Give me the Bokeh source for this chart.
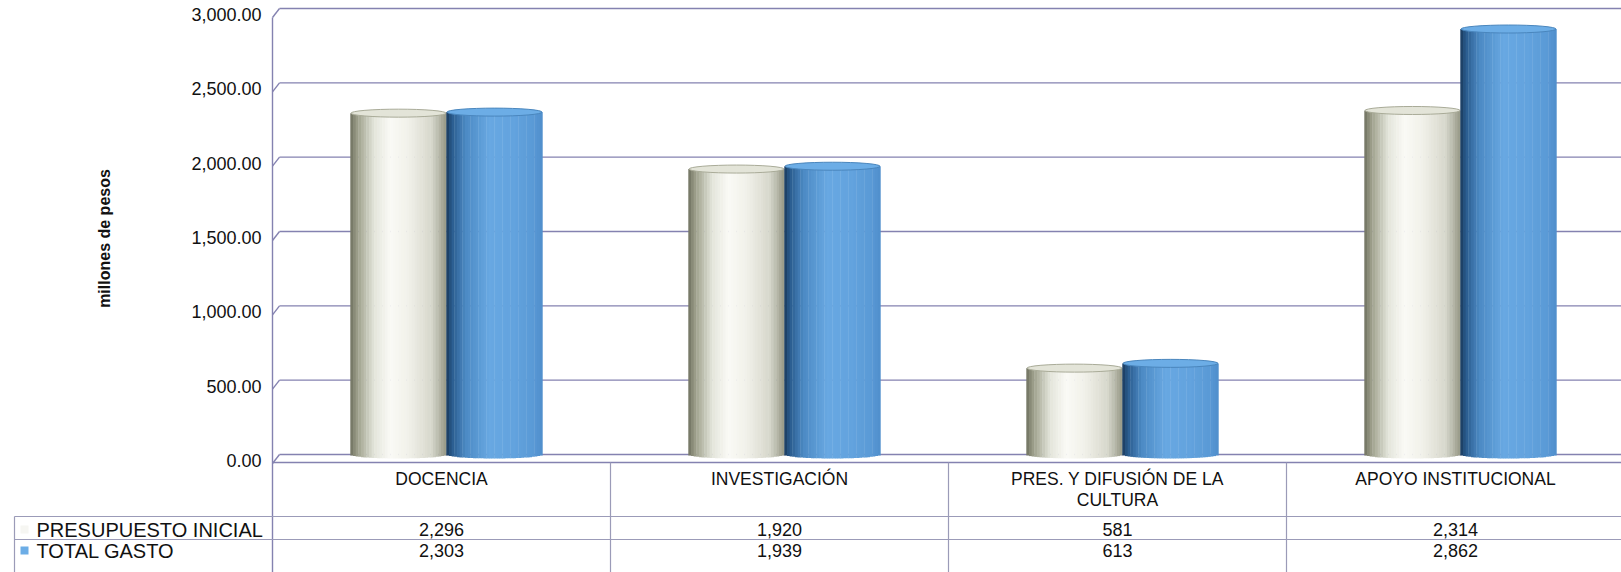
import math
from bokeh.plotting import figure
from bokeh.models import ColumnDataSource, Range1d
from bokeh.core.properties import value
from bokeh.embed import file_html
from bokeh.resources import INLINE

# ---------------- data ----------------
categories = ["DOCENCIA", "INVESTIGACIÓN", "PRES. Y DIFUSIÓN DE LA\nCULTURA", "APOYO INSTITUCIONAL"]
series_names = ["PRESUPUESTO INICIAL", "TOTAL GASTO"]
presupuesto_inicial = [2296, 1920, 581, 2314]
total_gasto = [2303, 1939, 613, 2862]
y_ticks = [0, 500, 1000, 1500, 2000, 2500, 3000]
y_tick_labels = ["0.00", "500.00", "1,000.00", "1,500.00", "2,000.00", "2,500.00", "3,000.00"]
y_title = "millones de pesos"

# ---------------- layout (page pixels) ----------------
W, H = 1621, 572
AXIS_X = 272          # left wall of plot
COL_W = 338           # width of one category
Y0_BACK = 454         # value 0 on back wall
Y_TOP_BACK = 8        # value 3000 on back wall
PPU = (Y0_BACK - Y_TOP_BACK) / 3000.0
DEPTH_X = 7           # 3D depth offset
DEPTH_Y = 8
BAR_W_PX = 96
BAR_SHIFT_PX = 5
CAP_H = 8
LABEL_OFF = 6

def px_x(page_x):
    return (page_x - AXIS_X) / COL_W

def px_y(page_y):
    return (Y0_BACK - page_y) / PPU

def dxu(px):
    return px / COL_W

def dyu(px):
    return px / PPU

FONT = value("Liberation Sans")
GRID_C = "#8482b0"
TABLE_C = "#9b9bb8"

p = figure(width=W, height=H,
           x_range=Range1d(px_x(0), px_x(W)),
           y_range=Range1d(px_y(H), px_y(0)),
           output_backend="svg", toolbar_location=None, min_border=0)
p.axis.visible = False
p.grid.visible = False
p.outline_line_color = None
p.background_fill_color = "white"
p.border_fill_color = "white"

x_right = px_x(W + 20)
x_wall = 0.0
x_back = dxu(DEPTH_X)

# ---------------- gridlines (back wall) ----------------
gx0, gx1, gy0, gy1 = [], [], [], []
for v in y_ticks:
    gx0.append(x_back); gx1.append(x_right); gy0.append(v); gy1.append(v)
    gx0.append(x_wall); gx1.append(x_back); gy0.append(v - dyu(DEPTH_Y + 1)); gy1.append(v)
# floor front edge
gx0.append(x_wall); gx1.append(x_right); gy0.append(-dyu(DEPTH_Y)); gy1.append(-dyu(DEPTH_Y))
p.segment(x0=gx0, y0=gy0, x1=gx1, y1=gy1, line_color=GRID_C, line_width=1.4)

# left wall vertical line
p.segment(x0=[x_wall], y0=[y_ticks[-1] - dyu(DEPTH_Y + 1)], x1=[x_wall], y1=[px_y(600)],
          line_color=GRID_C, line_width=1.4)

# ---------------- cylinders ----------------
gray_stops = [(0.0, (112, 114, 96)), (0.08, (160, 162, 142)), (0.25, (228, 229, 219)),
              (0.42, (250, 250, 246)), (0.62, (240, 240, 232)), (0.85, (214, 215, 203)),
              (1.0, (150, 152, 134))]
blue_stops = [(0.0, (26, 58, 92)), (0.06, (42, 92, 142)), (0.2, (76, 138, 196)),
              (0.45, (104, 168, 226)), (0.7, (99, 163, 222)), (0.9, (90, 154, 214)),
              (1.0, (80, 142, 204))]

def shade(stops, t):
    for (t0, c0), (t1, c1) in zip(stops[:-1], stops[1:]):
        if t <= t1:
            f = (t - t0) / (t1 - t0) if t1 > t0 else 0
            return "#%02x%02x%02x" % tuple(int(round(a + (b - a) * f)) for a, b in zip(c0, c1))
    c = stops[-1][1]
    return "#%02x%02x%02x" % c

N = 36
bw = dxu(BAR_W_PX)
shift = dxu(BAR_SHIFT_PX)
series = [(presupuesto_inicial, gray_stops, -1, "#e3e4d8", "#a9ab98"),
          (total_gasto, blue_stops, 1, "#6cade6", "#4a86bd")]
for vals, stops, side, cap_fill, cap_line in series:
    xs, tops, bots, cols, wids = [], [], [], [], []
    cx_list = []
    for i, v in enumerate(vals):
        cx = i + 0.5 + shift + side * bw / 2
        cx_list.append(cx)
        for k in range(N):
            u = -1 + (2 * k + 1) / N
            xs.append(cx + u * bw / 2)
            tops.append(v)
            bots.append(-dyu(CAP_H / 2) * math.sqrt(max(0.0, 1 - u * u)))
            cols.append(shade(stops, (u + 1) / 2))
            wids.append(bw / N * 1.15)
    src = ColumnDataSource(dict(x=xs, top=tops, bottom=bots, color=cols, w=wids))
    p.vbar(x="x", top="top", bottom="bottom", width="w", source=src,
           fill_color="color", line_color=None)
    p.ellipse(x=cx_list, y=vals, width=bw * 0.99, height=CAP_H, height_units="screen",
              fill_color=cap_fill, line_color=cap_line, line_width=1)

# ---------------- data table ----------------
ROW_TOP = 516
ROW_MID = 539
ROW_CENTERS = [529, 550]
TABLE_LEFT = 14
ncat = len(categories)

# horizontal lines
hx0 = [px_x(TABLE_LEFT), px_x(TABLE_LEFT)]
hx1 = [x_right, x_right]
hy = [px_y(ROW_TOP), px_y(ROW_MID)]
p.segment(x0=hx0, y0=hy, x1=hx1, y1=hy, line_color=TABLE_C, line_width=1.2)
# vertical lines
vx = [px_x(TABLE_LEFT)] + [float(k) for k in range(1, ncat + 1)]
vy0 = [px_y(ROW_TOP)] + [-dyu(DEPTH_Y)] * ncat
vy1 = [px_y(600)] * (ncat + 1)
p.segment(x0=vx, y0=vy0, x1=vx, y1=vy1, line_color=TABLE_C, line_width=1.2)

# category labels
cat_x, cat_y, cat_t = [], [], []
for i, c in enumerate(categories):
    for j, line in enumerate(c.split("\n")):
        cat_x.append(i + 0.5)
        cat_y.append(px_y(478 + 21 * j))
        cat_t.append(line)
p.text(x=cat_x, y=cat_y, text=cat_t, text_font=FONT, text_font_size=value("17.5px"),
       text_align="center", text_baseline="middle", text_color="#111111")

# value cells
row_centers = [px_y(c) for c in ROW_CENTERS]
vx_, vy_, vt_ = [], [], []
for r, vals in enumerate([presupuesto_inicial, total_gasto]):
    for i, v in enumerate(vals):
        vx_.append(i + 0.5)
        vy_.append(row_centers[r])
        vt_.append(f"{v:,}")
p.text(x=vx_, y=vy_, text=vt_, text_font=FONT, text_font_size=value("18px"),
       text_align="center", text_baseline="middle", text_color="#111111")

# row labels + legend keys
p.text(x=[px_x(36)] * 2, y=row_centers, text=series_names, text_font=FONT,
       text_font_size=value("20px"), text_align="left", text_baseline="middle",
       text_color="#111111")
p.scatter(x=[px_x(24)] * 2, y=row_centers, marker="square", size=8,
          fill_color=["#f6f6f2", "#6cade6"], line_color=None)

# ---------------- y tick labels & title ----------------
p.text(x=[px_x(261)] * len(y_ticks), y=[v - dyu(LABEL_OFF) for v in y_ticks],
       text=y_tick_labels, text_font=FONT, text_font_size=value("18px"),
       text_align="right", text_baseline="middle", text_color="#111111")
p.text(x=[px_x(104)], y=[px_y(238)], text=[y_title], angle=math.pi / 2,
       text_font=FONT, text_font_size=value("16px"), text_font_style="bold",
       text_align="center", text_baseline="middle", text_color="#111111")

open("out.html", "w").write(file_html(p, INLINE))
